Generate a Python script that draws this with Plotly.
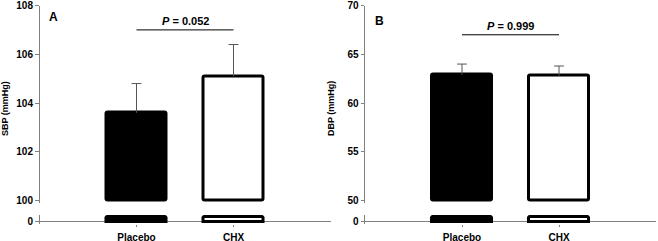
import plotly.graph_objects as go

# ---- data ----
categories = ["Placebo", "CHX"]
sbp_mean = [103.6, 105.1]
sbp_sem = [1.2, 1.3]
dbp_mean = [62.9, 62.8]
dbp_sem = [1.1, 1.0]
sbp_ticks = [100, 102, 104, 106, 108]
dbp_ticks = [50, 55, 60, 65, 70]
sbp_break = 100
dbp_break = 50
sbp_p = "0.052"
dbp_p = "0.999"
sbp_bracket = 107
dbp_bracket = 67
low_top = 1  # top of the lower (0) axis segment

W, H = 658, 241
FONT = "Liberation Sans, Arial, sans-serif"
AXC = "#808080"
ERRC = "#555555"
fills = ["#000000", "#ffffff"]


def py(px):
    return 1 - px / H


def pxx(px):
    return px / W


up_dom = [py(203.1), py(5.5)]
lo_dom = [py(224), py(215)]
xA = [pxx(39.5), pxx(330.5)]
xB = [pxx(365), pxx(656)]

fig = go.Figure()


def add_panel(means, sems, brk, xa_lo, ya_lo, xa_up, ya_up, bracket, ptxt):
    # upper part (above the axis break)
    fig.add_trace(go.Bar(
        x=categories, y=[m - brk for m in means], base=brk,
        width=0.62, xaxis=xa_up, yaxis=ya_up,
        marker=dict(color=fills, line=dict(color="#000", width=3), cornerradius=2),
        error_y=dict(type="data", array=sems, arrayminus=[0, 0], symmetric=False,
                     color=ERRC, thickness=1, width=0),
        showlegend=False, hoverinfo="skip"))
    # error-bar caps
    fig.add_trace(go.Scatter(
        x=categories, y=[m + s for m, s in zip(means, sems)], mode="markers",
        marker=dict(symbol="line-ew", size=7, line=dict(color=ERRC, width=1)),
        xaxis=xa_up, yaxis=ya_up, showlegend=False, hoverinfo="skip"))
    # lower segment of the broken axis (0 ... low_top)
    fig.add_trace(go.Bar(
        x=categories, y=[min(m, low_top) for m in means], width=0.62,
        xaxis=xa_lo, yaxis=ya_lo,
        marker=dict(color=fills, line=dict(color="#000", width=3), cornerradius=2),
        showlegend=False, hoverinfo="skip"))
    # significance bracket
    fig.add_trace(go.Scatter(
        x=categories, y=[bracket, bracket], mode="lines",
        line=dict(color="#000", width=1), xaxis=xa_up, yaxis=ya_up,
        showlegend=False, hoverinfo="skip"))
    fig.add_annotation(x=0.5, y=bracket, xref=xa_up, yref=ya_up,
                       text="<i>P</i> = " + ptxt, showarrow=False,
                       xanchor="center", yanchor="middle", yshift=9,
                       font=dict(family=FONT, size=11, color="#000", weight="bold"))


add_panel(sbp_mean, sbp_sem, sbp_break, "x", "y", "x2", "y2", sbp_bracket, sbp_p)
add_panel(dbp_mean, dbp_sem, dbp_break, "x3", "y3", "x4", "y4", dbp_bracket, dbp_p)

tickfont = dict(family=FONT, size=10, color="#000", weight="bold")
xcommon = dict(type="category", range=[-1, 2], showgrid=False, zeroline=False,
               showline=False, ticks="outside", ticklen=2, tickcolor=AXC,
               ticklabelstandoff=2, tickfont=tickfont, automargin=False)
ycommon = dict(showgrid=False, showline=True, linecolor=AXC, linewidth=1,
               ticks="outside", ticklen=3.5, tickcolor=AXC, tickfont=tickfont,
               automargin=False)
hidden_x = {**xcommon, "showticklabels": False, "ticks": ""}

fig.update_layout(
    template="none",
    width=W, height=H, margin=dict(l=0, r=0, t=0, b=0, autoexpand=False),
    paper_bgcolor="white", plot_bgcolor="white", bargap=0,
    font=dict(family=FONT, color="#000"),
    xaxis=dict(domain=xA, anchor="y", **xcommon),
    xaxis2=dict(domain=xA, anchor="y2", matches="x", **hidden_x),
    xaxis3=dict(domain=xB, anchor="y3", **xcommon),
    xaxis4=dict(domain=xB, anchor="y4", matches="x3", **hidden_x),
    yaxis=dict(domain=lo_dom, anchor="x", range=[-0.5, 1.5], tickvals=[0],
               zeroline=True, zerolinecolor=AXC, zerolinewidth=1, **ycommon),
    yaxis2=dict(domain=up_dom, anchor="x2", range=[99.9, 108], tickvals=sbp_ticks,
                zeroline=False, **ycommon),
    yaxis3=dict(domain=lo_dom, anchor="x3", range=[-0.5, 1.5], tickvals=[0],
                zeroline=True, zerolinecolor=AXC, zerolinewidth=1, **ycommon),
    yaxis4=dict(domain=up_dom, anchor="x4", range=[49.75, 70], tickvals=dbp_ticks,
                zeroline=False, **ycommon),
)

# axis titles and panel letters
title_font = dict(family=FONT, size=9, color="#000", weight="bold")
letter_font = dict(family=FONT, size=12, color="#000", weight="bold")
fig.add_annotation(x=pxx(5), y=py(109), xref="paper", yref="paper", text="SBP (mmHg)",
                   textangle=-90, showarrow=False, xanchor="center", yanchor="middle",
                   font=title_font)
fig.add_annotation(x=pxx(331), y=py(109), xref="paper", yref="paper", text="DBP (mmHg)",
                   textangle=-90, showarrow=False, xanchor="center", yanchor="middle",
                   font=title_font)
fig.add_annotation(x=pxx(53), y=py(17.5), xref="paper", yref="paper", text="A",
                   showarrow=False, xanchor="center", yanchor="middle", font=letter_font)
fig.add_annotation(x=pxx(379), y=py(21), xref="paper", yref="paper", text="B",
                   showarrow=False, xanchor="center", yanchor="middle", font=letter_font)

# remove the default page margin so the figure sits at the window origin
fig.write_html("out.html", post_script="document.body.style.margin='0';",
               config={"displayModeBar": False})
